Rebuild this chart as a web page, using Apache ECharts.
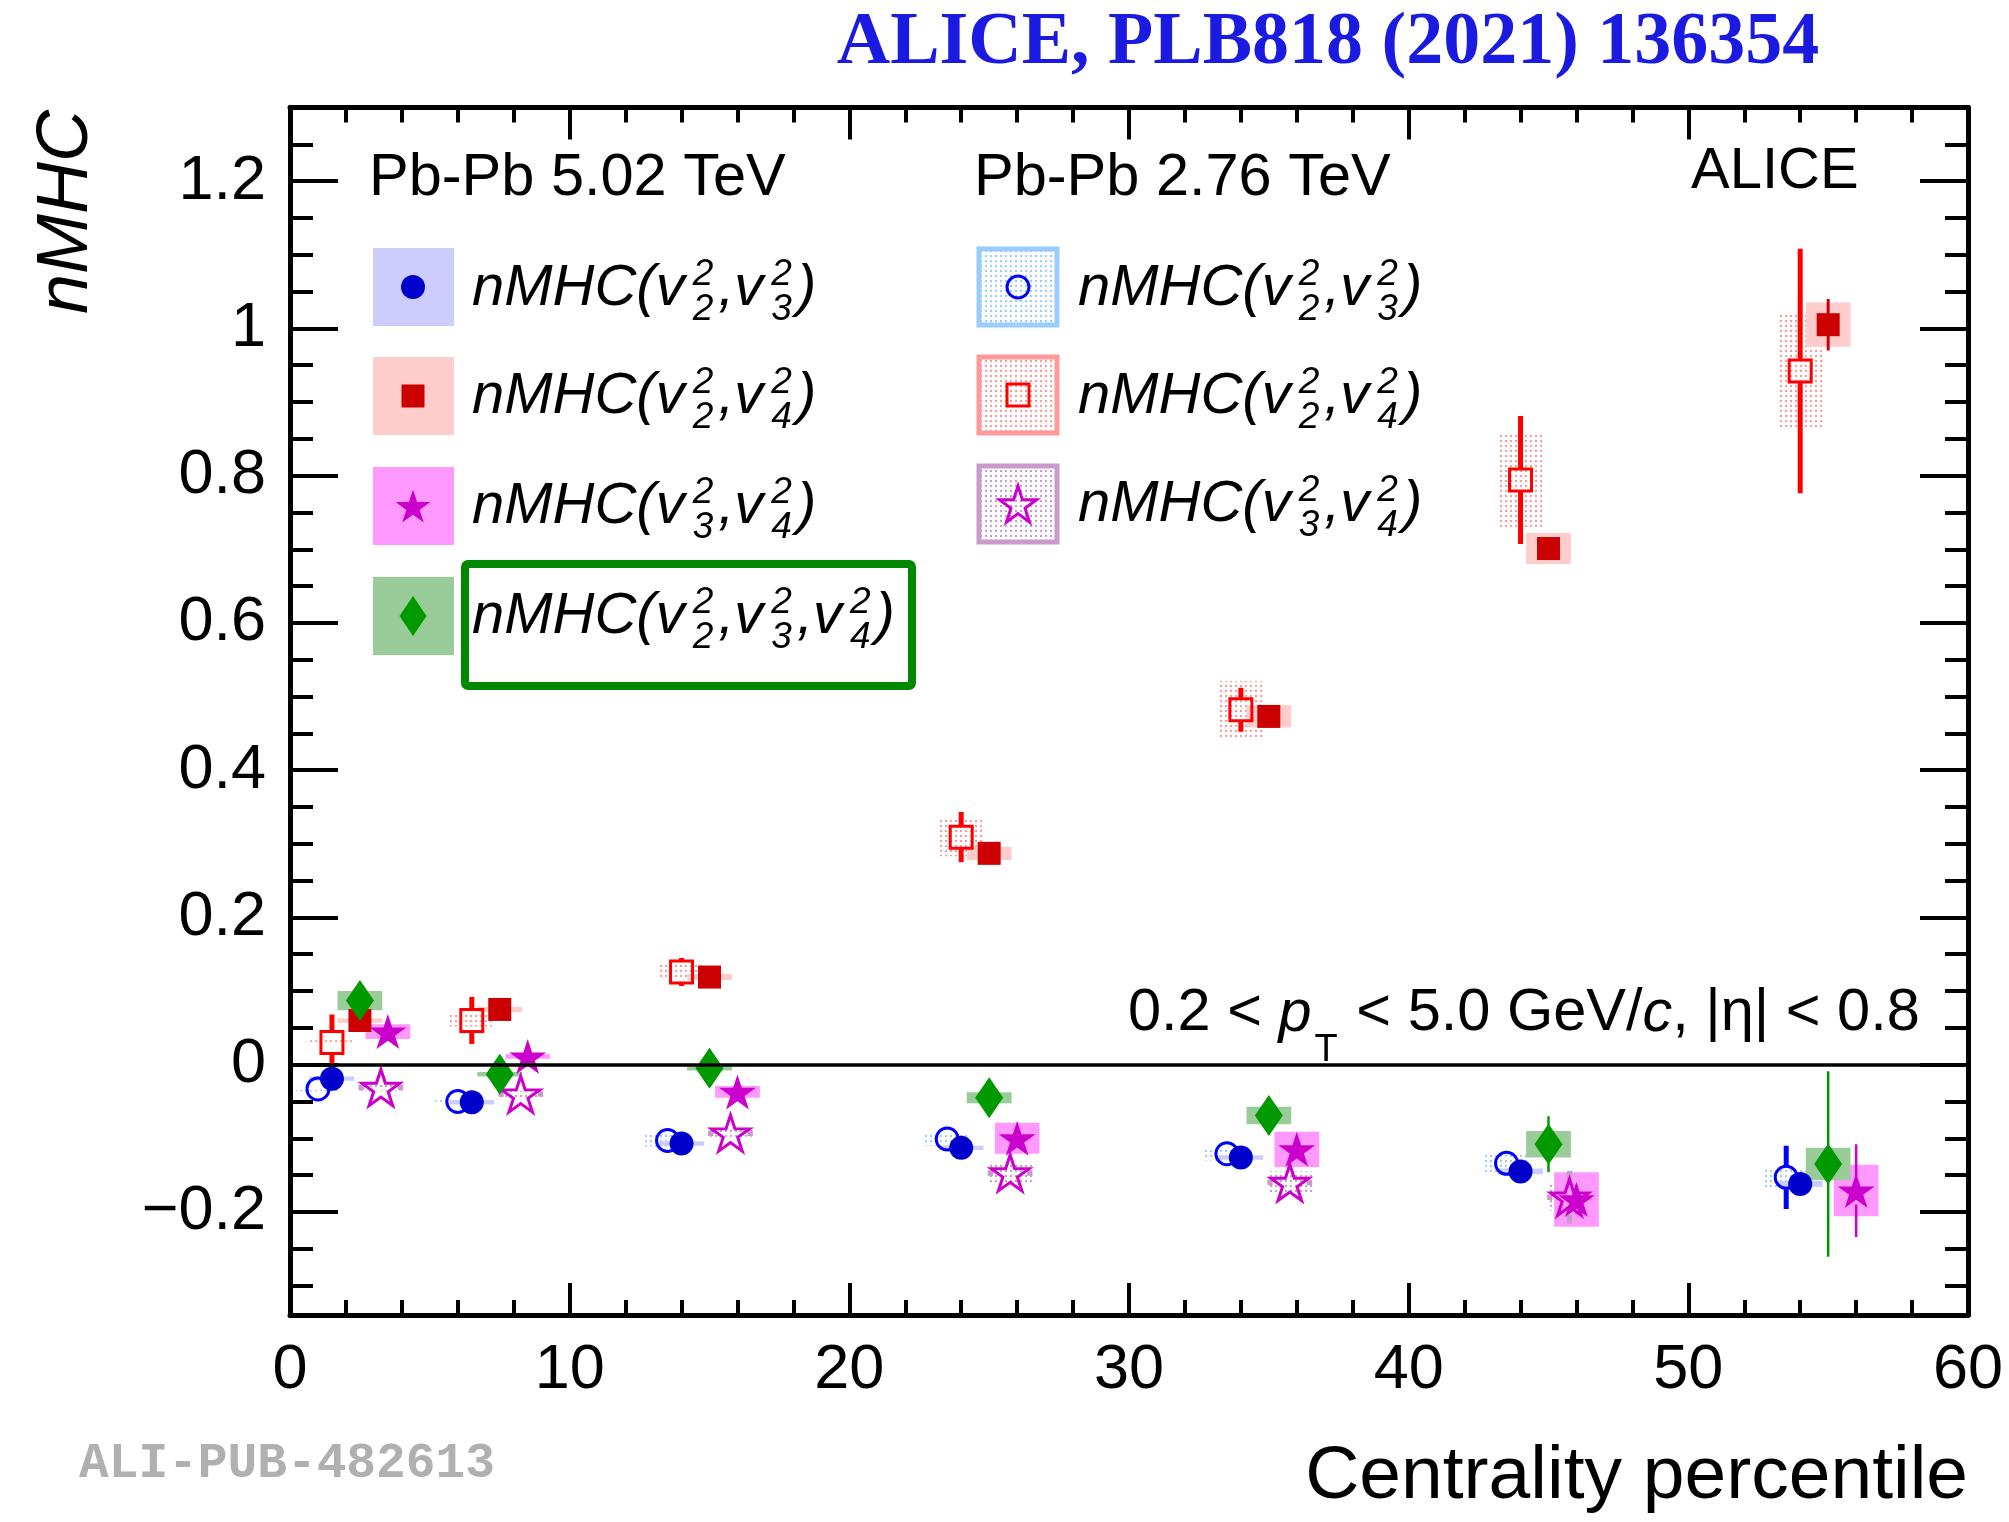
<!DOCTYPE html>
<html>
<head>
<meta charset="utf-8">
<script src="https://cdn.jsdelivr.net/npm/echarts@6/dist/echarts.min.js"></script>
<style>
  html, body { margin: 0; padding: 0; background: #fff; }
  #chart { width: 2009px; height: 1522px; }
</style>
</head>
<body>
<div id="chart"></div>
<script>
// ---- nMHC vs centrality, Pb-Pb 5.02 TeV (filled) and 2.76 TeV (open) ----
// each series: centrality position, value, statistical error, systematic error

// Pb-Pb 5.02 TeV
const x502_v23  = [1.5, 6.5, 14, 24, 34, 44, 54];
const y502_v23  = [-0.019, -0.051, -0.107, -0.113, -0.126, -0.145, -0.162];
const st502_v23 = [0.003, 0.003, 0.003, 0.004, 0.005, 0.007, 0.012];
const sy502_v23 = [0.003, 0.003, 0.003, 0.003, 0.003, 0.004, 0.004];

const x502_v24  = [2.5, 7.5, 15, 25, 35, 45, 55];
const y502_v24  = [0.060, 0.075, 0.119, 0.287, 0.473, 0.701, 1.005];
const st502_v24 = [0.004, 0.004, 0.004, 0.006, 0.008, 0.012, 0.035];
const sy502_v24 = [0.003, 0.0035, 0.004, 0.009, 0.015, 0.021, 0.030];

const x502_v34  = [3.5, 8.5, 16, 26, 36, 46, 56];
const y502_v34  = [0.045, 0.011, -0.037, -0.100, -0.115, -0.183, -0.171];
const st502_v34 = [0.005, 0.005, 0.006, 0.010, 0.012, 0.020, 0.063];
const sy502_v34 = [0.010, 0.003, 0.008, 0.021, 0.024, 0.037, 0.035];

const x502_v234  = [2.5, 7.5, 15, 25, 35, 45, 55];
const y502_v234  = [0.087, -0.013, -0.005, -0.045, -0.069, -0.108, -0.135];
const st502_v234 = [0.010, 0.010, 0.010, 0.012, 0.018, 0.038, 0.126];
const sy502_v234 = [0.013, 0.003, 0.003, 0.0075, 0.012, 0.018, 0.022];

// Pb-Pb 2.76 TeV
const x276_v23  = [1, 6, 13.5, 23.5, 33.5, 43.5, 53.5];
const y276_v23  = [-0.033, -0.050, -0.103, -0.101, -0.121, -0.134, -0.153];
const st276_v23 = [0.004, 0.004, 0.005, 0.006, 0.008, 0.012, 0.043];
const sy276_v23 = [0.003, 0.004, 0.008, 0.009, 0.009, 0.013, 0.014];

const x276_v24  = [1.5, 6.5, 14, 24, 34, 44, 54];
const y276_v24  = [0.030, 0.060, 0.126, 0.309, 0.482, 0.794, 0.942];
const st276_v24 = [0.038, 0.032, 0.019, 0.034, 0.030, 0.087, 0.166];
const sy276_v24 = [0.003, 0.008, 0.010, 0.026, 0.039, 0.065, 0.077];

const x276_v34  = [3.25, 8.25, 15.75, 25.75, 35.75, 45.75];
const y276_v34  = [-0.031, -0.040, -0.093, -0.147, -0.160, -0.180];
const st276_v34 = [0.021, 0.020, 0.020, 0.020, 0.020, 0.036];
const sy276_v34 = [0.004, 0.004, 0.005, 0.015, 0.015, 0.018];

// axis ticks and labels
const xTickValues  = [0, 10, 20, 30, 40, 50, 60];
const yMajorTicks  = [-0.2, 0, 0.2, 0.4, 0.6, 0.8, 1, 1.2];
const yMinorTicks  = [-0.3, -0.25, -0.15, -0.1, -0.05, 0.05, 0.1, 0.15, 0.25, 0.3, 0.35,
                      0.45, 0.5, 0.55, 0.65, 0.7, 0.75, 0.85, 0.9, 0.95, 1.05, 1.1, 1.15, 1.25];

// ---- helpers ----
const FONT = 'Liberation Sans';
const BOX_HW = 0.8;            // half-width of systematic boxes, in centrality units
const STAR = 'path://M0,-100L22.45,-30.9L95.1,-30.9L36.33,11.8L58.78,80.9L0,38.2L-58.78,80.9L-36.33,11.8L-95.1,-30.9L-22.45,-30.9Z';

function dotPattern(color) {
  const c = document.createElement('canvas');
  c.width = 5; c.height = 5;
  const g = c.getContext('2d');
  g.fillStyle = color;
  g.fillRect(0, 0, 2, 2);
  return { image: c, repeat: 'repeat' };
}

function zip3(xs, ys, es) { return xs.map((x, i) => [x, ys[i], es[i]]); }
function zip2(xs, ys) { return xs.map((x, i) => [x, ys[i]]); }

// layer order: systematic boxes < error bars < markers
function sysBoxes(xs, ys, sys, fill, extra) {
  return Object.assign({
    type: 'custom', silent: true, clip: true, z: 1,
    renderItem: (params, api) => {
      const x = api.value(0), y = api.value(1), s = api.value(2);
      const a = api.coord([x - BOX_HW, y + s]);
      const b = api.coord([x + BOX_HW, y - s]);
      return { type: 'rect', shape: { x: a[0], y: a[1], width: b[0] - a[0], height: b[1] - a[1] }, style: { fill: fill } };
    },
    data: zip3(xs, ys, sys)
  }, extra || {});
}

// statistical error bars; the bar is interrupted over the marker (gap, in px)
function statBars(xs, ys, errs, color, width, gap, withX) {
  return {
    type: 'custom', silent: true, clip: true, z: 2,
    renderItem: (params, api) => {
      const x = api.value(0), y = api.value(1), e = api.value(2);
      const c = api.coord([x, y]);
      const t = api.coord([x, y + e]), b = api.coord([x, y - e]);
      const st = { stroke: color, lineWidth: width };
      const kids = [];
      if (t[1] < c[1] - gap) kids.push({ type: 'line', shape: { x1: c[0], y1: t[1], x2: c[0], y2: c[1] - gap }, style: st });
      if (b[1] > c[1] + gap) kids.push({ type: 'line', shape: { x1: c[0], y1: c[1] + gap, x2: c[0], y2: b[1] }, style: st });
      if (withX) {
        const l = api.coord([x - BOX_HW, y]), r = api.coord([x + BOX_HW, y]);
        kids.push({ type: 'line', shape: { x1: l[0], y1: c[1], x2: c[0] - gap, y2: c[1] }, style: st });
        kids.push({ type: 'line', shape: { x1: c[0] + gap, y1: c[1], x2: r[0], y2: c[1] }, style: st });
      }
      return { type: 'group', children: kids };
    },
    data: zip3(xs, ys, errs)
  };
}

function markers(xs, ys, symbol, size, style, z) {
  return { type: 'scatter', silent: true, z: z, symbol: symbol, symbolSize: size,
           itemStyle: Object.assign({ opacity: 1 }, style), data: zip2(xs, ys) };
}

// text layout with stacked super/subscripts
const measCtx = document.createElement('canvas').getContext('2d');
function measure(str, size, italic) {
  measCtx.font = (italic ? 'italic ' : '') + size + 'px "' + FONT + '"';
  return measCtx.measureText(str).width;
}
function seg(els, x, y, str, size, italic) {
  els.push({ type: 'text', x: x, y: y, silent: true,
    style: { text: str, fontSize: size, fontFamily: FONT, fontStyle: italic ? 'italic' : 'normal',
             fill: '#000', align: 'left', verticalAlign: 'middle' } });
  return measure(str, size, italic);
}
function formula(x0, y, pieces, o) {
  const els = [];
  let x = x0;
  pieces.forEach(p => {
    if (p.t !== undefined) {
      x += seg(els, x, y, p.t, o.size, p.it);
    } else {
      x += o.pre;
      let w = 0;
      if (p.sup) w = Math.max(w, seg(els, x, y + o.supDy, p.sup, o.script, p.it));
      if (p.sub) w = Math.max(w, seg(els, x, y + o.subDy, p.sub, o.script, p.it));
      x += w + o.post;
    }
  });
  return els;
}
const LEG = { size: 58, script: 37, supDy: -14, subDy: 21, pre: 8, post: 5 };
function nmhc(pairs) {
  // pairs: [[sup, sub], ...] -> nMHC(v^a_b, v^c_d, ...)
  const pcs = [{ t: 'nMHC(', it: true }];
  pairs.forEach((p, i) => {
    pcs.push({ t: (i ? ',' : '') + 'v', it: true });
    pcs.push({ sup: p[0], sub: p[1], it: true });
  });
  pcs.push({ t: ')', it: true });
  return pcs;
}

function starPoints(cx, cy, w, h) {
  const pts = [[0,-100],[22.45,-30.9],[95.1,-30.9],[36.33,11.8],[58.78,80.9],[0,38.2],[-58.78,80.9],[-36.33,11.8],[-95.1,-30.9],[-22.45,-30.9]];
  return pts.map(p => [cx + p[0] / 190.2 * w, cy + (p[1] + 9.55) / 180.9 * h]);
}

// ---- colours ----
const C = {
  v23f: '#0000cc', v23fBox: '#ccccff',
  v24f: '#cc0000', v24fBox: '#ffcccc',
  v34f: '#cc00cc', v34fBox: '#ff99ff',
  v234: '#009900', v234Box: '#99cc99',
  v23o: '#0000ff', v23oBox: '#99ccff',
  v24o: '#ff0000', v24oBox: '#ff9999',
  v34o: '#cc00cc', v34oBox: '#cc99cc'
};
const pat23 = dotPattern(C.v23oBox), pat24 = dotPattern(C.v24oBox), pat34 = dotPattern(C.v34oBox);

// ---- legend / annotation graphics ----
const g = [];
function txt(x, y, str, o) {
  g.push({ type: 'text', x: x, y: y, silent: true, rotation: o.rotation || 0,
    style: Object.assign({ text: str, fontFamily: FONT, fontSize: 58, fill: '#000', align: 'left', verticalAlign: 'middle' }, o.style || {}) });
}
txt(1328, 44, 'ALICE, PLB818 (2021) 136354', { style: { fontFamily: 'Liberation Serif', fontWeight: 'bold', fontSize: 74, fill: '#1a1ae0', align: 'center' } });
txt(369, 179, 'Pb-Pb 5.02 TeV', { style: { fontSize: 59.5 } });
txt(974, 179, 'Pb-Pb 2.76 TeV', { style: { fontSize: 59.5 } });
txt(1691, 172, 'ALICE', {});
txt(67, 110, 'nMHC', { rotation: Math.PI / 2, style: { fontStyle: 'italic', fontSize: 72, align: 'right' } });
txt(1968, 1477, 'Centrality percentile', { style: { fontSize: 75, align: 'right' } });
txt(79, 1465, 'ALI-PUB-482613', { style: { fontFamily: 'Liberation Mono', fontWeight: 'bold', fontSize: 49.5, fill: '#b0b0b0' } });

// Pb-Pb 5.02 TeV legend column
const legRows502 = [287, 396, 506, 616];
const legBox502 = [C.v23fBox, C.v24fBox, C.v34fBox, C.v234Box];
legRows502.forEach((y, i) => {
  g.push({ type: 'rect', silent: true, shape: { x: 373, y: y - 39, width: 81, height: 78 }, style: { fill: legBox502[i] } });
});
g.push({ type: 'circle', silent: true, shape: { cx: 413, cy: 287, r: 12 }, style: { fill: C.v23f } });
g.push({ type: 'rect', silent: true, shape: { x: 401.5, y: 384.5, width: 23, height: 23 }, style: { fill: C.v24f } });
g.push({ type: 'polygon', silent: true, shape: { points: starPoints(413, 506, 35, 33) }, style: { fill: C.v34f } });
g.push({ type: 'polygon', silent: true, shape: { points: [[413, 596], [426.5, 616], [413, 636], [399.5, 616]] }, style: { fill: C.v234 } });
g.push(...formula(472, 289, nmhc([['2', '2'], ['2', '3']]), LEG));
g.push(...formula(472, 397, nmhc([['2', '2'], ['2', '4']]), LEG));
g.push(...formula(472, 507, nmhc([['2', '3'], ['2', '4']]), LEG));
g.push(...formula(472, 617, nmhc([['2', '2'], ['2', '3'], ['2', '4']]), LEG));
g.push({ type: 'rect', silent: true, shape: { x: 465, y: 564, width: 447, height: 122, r: 3 }, style: { fill: 'none', stroke: '#008800', lineWidth: 8 } });

// Pb-Pb 2.76 TeV legend column
const legRows276 = [287, 395, 504];
const legBox276 = [[C.v23oBox, pat23], [C.v24oBox, pat24], [C.v34oBox, pat34]];
legRows276.forEach((y, i) => {
  g.push({ type: 'rect', silent: true, shape: { x: 979, y: y - 38, width: 78, height: 76 }, style: { fill: legBox276[i][1], stroke: legBox276[i][0], lineWidth: 5 } });
});
g.push({ type: 'circle', silent: true, shape: { cx: 1018, cy: 287, r: 11 }, style: { fill: 'none', stroke: C.v23o, lineWidth: 3 } });
g.push({ type: 'rect', silent: true, shape: { x: 1007, y: 384, width: 22, height: 22 }, style: { fill: 'none', stroke: C.v24o, lineWidth: 3 } });
g.push({ type: 'polygon', silent: true, shape: { points: starPoints(1018, 504, 37, 36) }, style: { fill: 'none', stroke: C.v34o, lineWidth: 3 } });
g.push(...formula(1078, 289, nmhc([['2', '2'], ['2', '3']]), LEG));
g.push(...formula(1078, 397, nmhc([['2', '2'], ['2', '4']]), LEG));
g.push(...formula(1078, 505, nmhc([['2', '3'], ['2', '4']]), LEG));

// kinematic range
g.push(...formula(1128, 1014, [
  { t: '0.2 < ' }, { t: 'p', it: true }, { sub: 'T' }, { t: ' < 5.0 GeV/' }, { t: 'c', it: true }, { t: ', |\u03b7| < 0.8' }
], { size: 59.5, script: 38, supDy: 0, subDy: 37, pre: 3, post: 2 }));

// ---- axes ----
const lineBlack = { color: '#000', width: 5 };
const tickStyle = { color: '#000', width: 4 };
function xAx(pos, labels) {
  return {
    type: 'value', position: pos, min: 0, max: 60, interval: 10,
    axisLine: { show: true, onZero: false, lineStyle: lineBlack },
    axisTick: { show: true, inside: true, length: 32, lineStyle: tickStyle },
    minorTick: { show: true, splitNumber: 5, length: 15, lineStyle: tickStyle },
    axisLabel: labels ? { show: true, customValues: xTickValues, color: '#000', fontSize: 63, fontFamily: FONT, margin: 24 } : { show: false },
    splitLine: { show: false }, minorSplitLine: { show: false }
  };
}
function yAx(pos, major, labels) {
  return {
    type: 'value', position: pos, min: -0.34, max: 1.3,
    axisLine: { show: major, onZero: false, lineStyle: lineBlack },
    axisTick: { show: true, inside: true, length: major ? 48 : 23, customValues: major ? yMajorTicks : yMinorTicks, lineStyle: tickStyle },
    axisLabel: labels ? { show: true, customValues: yMajorTicks, color: '#000', fontSize: 63, fontFamily: FONT, margin: 24,
      formatter: v => (v < 0 ? '\u2212' + (-v) : String(v)) } : { show: false },
    splitLine: { show: false }
  };
}

// ---- series ----
const series = [
  sysBoxes(x276_v23, y276_v23, sy276_v23, pat23, {
    markLine: { silent: true, symbol: ['none', 'none'], label: { show: false },
      lineStyle: { color: '#000', width: 3.5, type: 'solid' }, data: [{ yAxis: 0 }] }
  }),
  sysBoxes(x276_v24, y276_v24, sy276_v24, pat24),
  sysBoxes(x276_v34, y276_v34, sy276_v34, pat34),
  sysBoxes(x502_v23, y502_v23, sy502_v23, C.v23fBox),
  sysBoxes(x502_v24, y502_v24, sy502_v24, C.v24fBox),
  sysBoxes(x502_v34, y502_v34, sy502_v34, C.v34fBox),
  sysBoxes(x502_v234, y502_v234, sy502_v234, C.v234Box),

  statBars(x276_v34, y276_v34, st276_v34, C.v34oBox, 5.5, 17, true),
  statBars(x276_v23, y276_v23, st276_v23, C.v23o, 5, 12),
  statBars(x276_v24, y276_v24, st276_v24, C.v24o, 5, 12),
  statBars(x502_v23, y502_v23, st502_v23, C.v23f, 3, 11),
  statBars(x502_v24, y502_v24, st502_v24, C.v24f, 3, 11),
  statBars(x502_v34, y502_v34, st502_v34, C.v34f, 2.5, 14),
  statBars(x502_v234, y502_v234, st502_v234, C.v234, 2.5, 19),

  markers(x276_v23, y276_v23, 'circle', 22, { color: 'rgba(0,0,0,0)', borderColor: C.v23o, borderWidth: 3 }, 3),
  markers(x276_v24, y276_v24, 'rect', 22, { color: 'rgba(0,0,0,0)', borderColor: C.v24o, borderWidth: 3 }, 3),
  markers(x276_v34, y276_v34, STAR, [38, 36], { color: 'rgba(0,0,0,0)', borderColor: C.v34o, borderWidth: 3 }, 3),
  markers(x502_v23, y502_v23, 'circle', 24, { color: C.v23f }, 4),
  markers(x502_v24, y502_v24, 'rect', 23, { color: C.v24f }, 4),
  markers(x502_v34, y502_v34, STAR, [37, 35], { color: C.v34f }, 4),
  markers(x502_v234, y502_v234, 'diamond', [28, 41], { color: C.v234 }, 4)
];

const chart = echarts.init(document.getElementById('chart'), null, { renderer: 'canvas', width: 2009, height: 1522 });
chart.setOption({
  animation: false,
  backgroundColor: '#fff',
  grid: { left: 290, right: 41, top: 107.5, bottom: 207, containLabel: false },
  xAxis: [xAx('bottom', true), xAx('top', false)],
  yAxis: [yAx('left', true, true), yAx('left', false, false), yAx('right', true, false), yAx('right', false, false)],
  series: series,
  graphic: { elements: g }
});
</script>
</body>
</html>
